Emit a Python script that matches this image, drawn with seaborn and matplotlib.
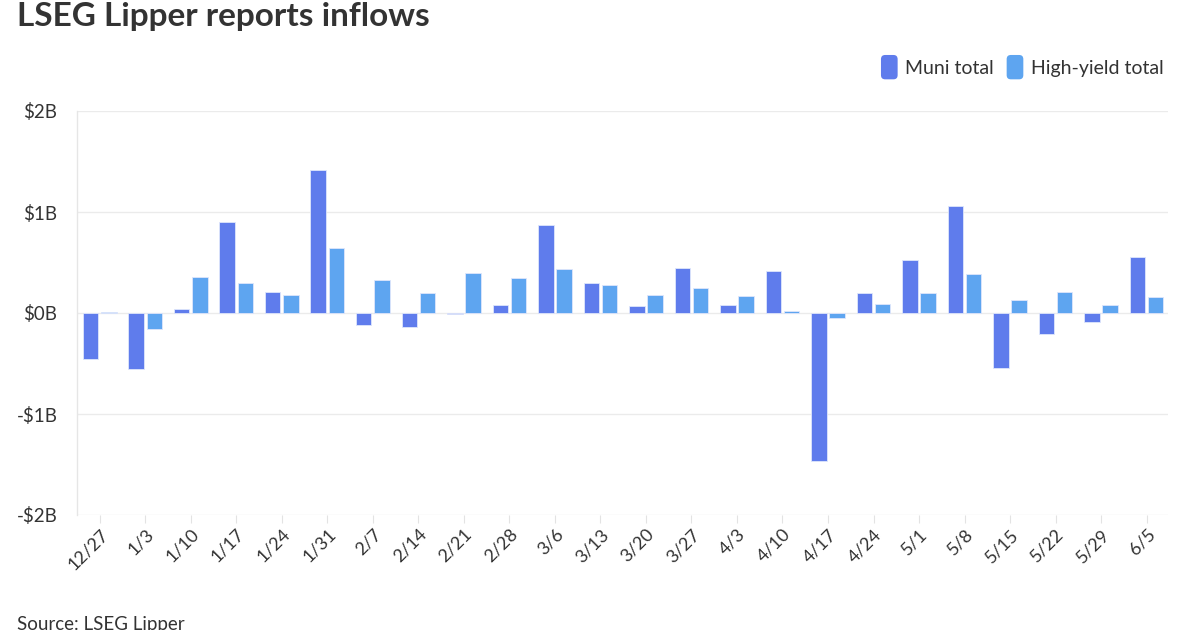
import matplotlib
matplotlib.use("Agg")
import matplotlib.pyplot as plt
import seaborn as sns
import pandas as pd
from matplotlib.patches import FancyBboxPatch
from matplotlib.legend_handler import HandlerPatch

weeks = ["12/27", "1/3", "1/10", "1/17", "1/24", "1/31", "2/7", "2/14", "2/21", "2/28",
         "3/6", "3/13", "3/20", "3/27", "4/3", "4/10", "4/17", "4/24", "5/1", "5/8",
         "5/15", "5/22", "5/29", "6/5"]
muni_total = [-0.46, -0.55, 0.04, 0.90, 0.21, 1.42, -0.12, -0.14, -0.01, 0.08,
              0.87, 0.30, 0.07, 0.45, 0.08, 0.42, -1.47, 0.20, 0.52, 1.06,
              -0.54, -0.21, -0.09, 0.55]
high_yield_total = [0.01, -0.16, 0.36, 0.30, 0.18, 0.64, 0.33, 0.20, 0.40, 0.35,
                    0.44, 0.28, 0.18, 0.25, 0.17, 0.02, -0.05, 0.09, 0.20, 0.39,
                    0.13, 0.21, 0.08, 0.16]
series_names = ["Muni total", "High-yield total"]
y_ticks = [-2, -1, 0, 1, 2]
y_labels = ["-$2B", "-$1B", "$0B", "$1B", "$2B"]

colors = ["#5f7cec", "#5ea5f0"]

df = pd.DataFrame({
    "week": weeks * 2,
    "value": muni_total + high_yield_total,
    "series": [series_names[0]] * len(weeks) + [series_names[1]] * len(weeks),
})

sns.set_theme(style="white")
plt.rcParams["font.family"] = ["Lato", "DejaVu Sans"]

fig = plt.figure(figsize=(12, 6.3), dpi=100)
ax = fig.add_axes([77 / 1200, 1 - 515 / 630, (1168 - 77) / 1200, (515 - 111) / 630])

sns.barplot(data=df, x="week", y="value", hue="series", order=weeks,
            hue_order=series_names, palette=colors, saturation=1, width=0.8, gap=0.15,
            edgecolor="#dfe6fb", linewidth=0.6, legend=False, ax=ax, zorder=3)

ax.set_ylim(-2, 2)
ax.set_xlim(-0.5, 23.47)
ax.set_yticks(y_ticks)
ax.set_yticklabels(y_labels)
ax.set_xlabel("")
ax.set_ylabel("")
ax.grid(axis="y", color="#ebebeb", linewidth=1, zorder=0)
ax.grid(axis="x", visible=False)
for s in ["top", "right", "bottom"]:
    ax.spines[s].set_visible(False)
ax.spines["left"].set_color("#e6e6e6")
ax.spines["left"].set_linewidth(1)

ax.tick_params(axis="y", length=0, pad=14, labelsize=13.5, labelcolor="#333333")
ax.tick_params(axis="x", length=6, width=0.8, color="#e3e3e3", pad=2,
               labelsize=13, labelcolor="#333333", bottom=True)
plt.setp(ax.get_xticklabels(), rotation=45, ha="right", rotation_mode="anchor")

fig.text(0.014, 0.997, "LSEG Lipper reports inflows", fontsize=24, fontweight="bold",
         color="#333333", ha="left", va="top")
fig.text(0.014, 0.0, "Source: LSEG Lipper", fontsize=13.5, color="#333333",
         ha="left", va="baseline")


class RoundHandler(HandlerPatch):
    def create_artists(self, legend, orig_handle, xdescent, ydescent, width, height,
                       fontsize, trans):
        p = FancyBboxPatch((-xdescent + 1, -ydescent - 2.5), width - 2, height + 5,
                           boxstyle="round,pad=0,rounding_size=3",
                           facecolor=orig_handle.get_facecolor(), edgecolor="none",
                           transform=trans)
        return [p]


handles = [FancyBboxPatch((0, 0), 1, 1, facecolor=c) for c in colors]
fig.legend(handles, series_names, loc="upper right", bbox_to_anchor=(0.984, 0.935),
           ncol=2, frameon=False, fontsize=14, handlelength=1.0, handleheight=1.0,
           handletextpad=0.3, columnspacing=0.6, labelcolor="#333333",
           handler_map={FancyBboxPatch: RoundHandler()})

fig.savefig("out.png", dpi=100, facecolor="white")
